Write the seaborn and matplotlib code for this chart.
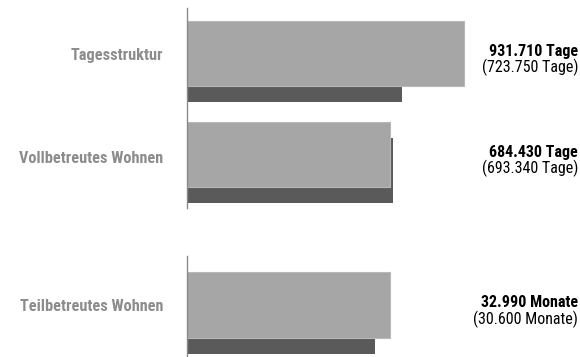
import matplotlib
matplotlib.use("Agg")
import matplotlib.pyplot as plt
import seaborn as sns
from matplotlib import font_manager

# ---- data ----
categories_tage = ["Tagesstruktur", "Vollbetreutes Wohnen"]
current_tage = [931710, 684430]
previous_tage = [723750, 693340]
unit_tage = "Tage"

categories_monate = ["Teilbetreutes Wohnen"]
current_monate = [32990]
previous_monate = [30600]
unit_monate = "Monate"

# ---- style ----
sns.set_theme(style="white")
names = {f.name for f in font_manager.fontManager.ttflist}
FONT, STRETCH, FS = ["DejaVu Sans"], "condensed", 10
for cand, size in [("Roboto Condensed", 11.5), ("Liberation Sans Narrow", 11.5),
                   ("Arial Narrow", 11.5), ("Open Sans Condensed", 11.0)]:
    if cand in names:
        FONT, STRETCH, FS = [cand, "DejaVu Sans"], "normal", size
        break
plt.rcParams["font.family"] = FONT
FS_LABEL = FS * 1.02

LIGHT = "#a6a6a6"
LIGHT_EDGE = "#b8b8b8"
DARK = "#5a5a5a"
LABEL_GRAY = "#8c8c8c"
AXIS_GRAY = "#8a8a8a"

W, H = 580, 357
fig = plt.figure(figsize=(W / 100, H / 100), dpi=100)


def px(x0, y0, x1, y1):
    # pixel box (top-left origin) -> figure fraction rect
    return [x0 / W, 1 - y1 / H, (x1 - x0) / W, (y1 - y0) / H]


def fmt(v):
    return f"{v:,.0f}".replace(",", ".")


BAR_W = 0.644
SHIFT = 16 / 101  # dark bar offset (in category units)


def panel(rect, cats, cur, prev, unit, xmax, ylim, label_dy):
    ax_dark = fig.add_axes(rect)
    ax = fig.add_axes(rect)
    ax.patch.set_alpha(0)
    sns.barplot(x=prev, y=cats, orient="h", color=DARK, saturation=1,
                width=BAR_W, errorbar=None, linewidth=0, ax=ax_dark)
    sns.barplot(x=cur, y=cats, orient="h", color=LIGHT, saturation=1,
                width=BAR_W, errorbar=None, linewidth=0.8,
                edgecolor=LIGHT_EDGE, ax=ax)
    top, bottom = ylim
    ax.set_ylim(bottom, top)
    ax_dark.set_ylim(bottom - SHIFT, top - SHIFT)
    for a in (ax, ax_dark):
        a.set_xlim(0, xmax)
        a.set_xlabel("")
        a.set_ylabel("")
        a.set_xticks([])
        for s in a.spines.values():
            s.set_visible(False)
    ax_dark.set_yticks([])
    ax.spines["left"].set_visible(True)
    ax.spines["left"].set_color(AXIS_GRAY)
    ax.spines["left"].set_linewidth(1.0)
    ax.spines["left"].set_zorder(5)
    ax.set_yticks(range(len(cats)))
    ax.set_yticklabels([])
    ax.tick_params(axis="y", length=0)
    for i, c in enumerate(cats):
        ax.annotate(c, xy=(0, i), xycoords=("axes fraction", "data"),
                    xytext=(-17.3, label_dy[i]), textcoords="offset points",
                    ha="right", va="center_baseline", fontsize=FS_LABEL,
                    fontweight="bold", color=LABEL_GRAY, fontstretch=STRETCH)
    for i, (c, p) in enumerate(zip(cur, prev)):
        ax.annotate(f"{fmt(c)} {unit}", xy=(578 / W, i),
                    xycoords=("figure fraction", "data"),
                    xytext=(0, 1.7), textcoords="offset points",
                    ha="right", va="center", fontsize=FS,
                    fontweight="bold", color="black", fontstretch=STRETCH)
        ax.annotate(f"({fmt(p)} {unit})", xy=(578 / W, i),
                    xycoords=("figure fraction", "data"),
                    xytext=(0, -10), textcoords="offset points",
                    ha="right", va="center", fontsize=FS,
                    color="black", fontstretch=STRETCH)
    return ax


# top panel: two "Tage" categories
panel(px(187, 8, 487, 208), categories_tage, current_tage, previous_tage,
      unit_tage, 1010000, (-45.5 / 101, -45.5 / 101 + 200 / 101),
      label_dy=[-0.6, -1.9])
# bottom panel: "Monate" category
panel(px(187, 255.7, 487, 357), categories_monate, current_monate,
      previous_monate, unit_monate, 48850,
      (-49.3 / 101, -49.3 / 101 + 101.3 / 101), label_dy=[0.3])

fig.savefig("out.png", dpi=100)
